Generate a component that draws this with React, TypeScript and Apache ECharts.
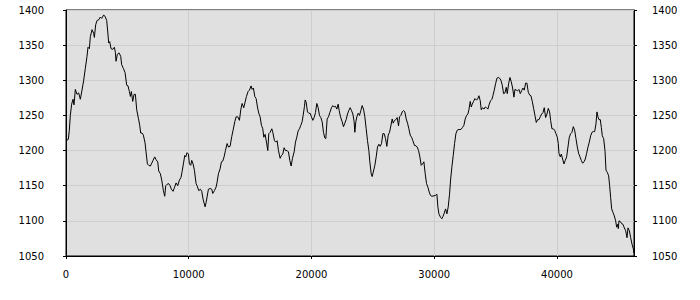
import React, { useEffect, useRef } from "react";
import * as echarts from "echarts";

const xs: number[] = [
  0, 190, 272, 353, 462, 571, 652, 761, 897, 1033, 1168, 1304, 1440, 1576, 1712, 1793, 1902, 1984, 2120, 2255,
  2310, 2418, 2527, 2663, 2799, 2908, 3071, 3207, 3315, 3397, 3478, 3560, 3668, 3804, 3940, 4022, 4076, 4185,
  4321, 4457, 4538, 4674, 4810, 4946, 5054, 5163, 5245, 5326, 5435, 5543, 5652, 5761, 5897, 6005, 6087, 6196,
  6304, 6440, 6522, 6630, 6739, 6875, 6957, 7092, 7228, 7337, 7473, 7554, 7690, 7799, 7935, 8043, 8125, 8234,
  8370, 8478, 8587, 8723, 8832, 8967, 9103, 9239, 9375, 9457, 9565, 9674, 9755, 9864, 9973, 10054, 10163, 10245,
  10353, 10462, 10598, 10679, 10815, 10951, 11060, 11168, 11332, 11413, 11495, 11603, 11739, 11875, 11957, 12092,
  12228, 12310, 12418, 12554, 12663, 12772, 12880, 12989, 13125, 13234, 13370, 13505, 13614, 13750, 13859, 13995,
  14130, 14239, 14348, 14484, 14592, 14701, 14837, 14946, 15082, 15163, 15272, 15380, 15489, 15598, 15707, 15815,
  15924, 16033, 16114, 16223, 16332, 16440, 16522, 16630, 16766, 16848, 16984, 17092, 17201, 17310, 17446, 17554,
  17663, 17772, 17880, 18016, 18125, 18234, 18342, 18451, 18587, 18696, 18804, 18913, 19022, 19130, 19239, 19321,
  19429, 19484, 19565, 19674, 19783, 19891, 20000, 20109, 20217, 20326, 20435, 20543, 20652, 20761, 20870, 20978,
  21087, 21168, 21277, 21386, 21495, 21630, 21739, 21848, 21957, 22065, 22174, 22255, 22364, 22500, 22609, 22717,
  22826, 22935, 23043, 23152, 23261, 23370, 23478, 23533, 23614, 23696, 23804, 23913, 24022, 24130, 24239, 24348,
  24457, 24565, 24674, 24755, 24864, 24946, 25054, 25163, 25272, 25380, 25489, 25598, 25707, 25815, 25924, 26033,
  26141, 26250, 26359, 26467, 26576, 26658, 26766, 26875, 26984, 27092, 27174, 27283, 27391, 27500, 27609, 27717,
  27826, 27935, 28043, 28152, 28261, 28397, 28505, 28614, 28723, 28832, 28940, 29049, 29158, 29266, 29375, 29484,
  29592, 29701, 29810, 30082, 30217, 30299, 30380, 30516, 30625, 30707, 30815, 30924, 31033, 31141, 31250, 31332,
  31440, 31549, 31658, 31766, 31875, 32011, 32174, 32310, 32418, 32527, 32636, 32745, 32826, 32935, 33016, 33098,
  33207, 33315, 33424, 33533, 33641, 33750, 33832, 33940, 34049, 34158, 34266, 34375, 34484, 34592, 34701, 34783,
  34891, 35000, 35109, 35217, 35326, 35435, 35543, 35652, 35761, 35870, 35951, 36060, 36168, 36277, 36386, 36495,
  36576, 36685, 36793, 36902, 37011, 37120, 37228, 37337, 37446, 37554, 37663, 37772, 37880, 37989, 38098, 38207,
  38315, 38424, 38533, 38641, 38750, 38859, 38967, 39076, 39185, 39293, 39402, 39484, 39592, 39701, 39810, 39918,
  40027, 40109, 40163, 40272, 40353, 40462, 40571, 40679, 40788, 40897, 41005, 41114, 41223, 41332, 41440, 41549,
  41658, 41766, 41875, 41984, 42092, 42201, 42310, 42418, 42527, 42636, 42745, 42853, 42962, 43071, 43179, 43261,
  43342, 43424, 43533, 43614, 43696, 43804, 43913, 43995, 44103, 44212, 44293, 44375, 44457, 44565, 44674, 44783,
  44864, 44946, 45000, 45054, 45163, 45272, 45380, 45489, 45598, 45707, 45788, 45897, 46005, 46114, 46223, 46277,
];

const ys: number[] = [
  1214, 1216, 1229, 1250, 1266, 1273, 1265, 1287, 1280, 1282, 1273, 1286, 1300, 1317, 1334, 1347, 1345, 1362, 1372, 1367,
  1361, 1379, 1385, 1386, 1390, 1388, 1393, 1390, 1385, 1370, 1353, 1355, 1345, 1344, 1347, 1340, 1327, 1337,
  1339, 1334, 1322, 1317, 1311, 1293, 1292, 1284, 1277, 1284, 1270, 1280, 1280, 1258, 1246, 1236, 1225, 1225,
  1222, 1211, 1198, 1181, 1179, 1178, 1181, 1186, 1191, 1187, 1184, 1171, 1167, 1158, 1143, 1135, 1150, 1152,
  1153, 1150, 1145, 1142, 1147, 1154, 1150, 1158, 1162, 1170, 1181, 1193, 1191, 1197, 1195, 1181, 1179, 1186,
  1181, 1172, 1153, 1150, 1143, 1145, 1142, 1131, 1120, 1126, 1134, 1145, 1146, 1145, 1139, 1143,
  1148, 1155, 1167, 1174, 1184, 1185, 1191, 1200, 1210, 1205, 1206, 1220, 1229, 1241, 1248, 1248,
  1243, 1258, 1267, 1261, 1269, 1277, 1284, 1286, 1292, 1287, 1289, 1277, 1274, 1262, 1253, 1248,
  1236, 1231, 1219, 1223, 1212, 1200, 1224, 1226, 1231, 1226, 1214, 1212, 1214, 1200, 1189, 1193,
  1195, 1204, 1200, 1200, 1198, 1186, 1178, 1189, 1198, 1212, 1219, 1228, 1231, 1236, 1241, 1250,
  1263, 1272, 1269, 1255, 1253, 1253, 1248, 1243, 1247, 1254, 1267, 1261, 1250, 1247, 1241, 1226,
  1218, 1217, 1245, 1248, 1254, 1261, 1264, 1262, 1263, 1259, 1266, 1257, 1248, 1241, 1234, 1239,
  1244, 1252, 1257, 1261, 1257, 1252, 1241, 1226, 1241, 1248, 1253, 1250, 1257, 1264, 1259, 1248,
  1231, 1214, 1200, 1184, 1167, 1163, 1171, 1179, 1191, 1205, 1209, 1206, 1210, 1224, 1224, 1217,
  1206, 1222, 1226, 1235, 1245, 1239, 1243, 1244, 1247, 1235, 1248, 1250, 1255, 1257, 1255, 1245,
  1239, 1231, 1222, 1219, 1214, 1207, 1207, 1205, 1200, 1191, 1179, 1181, 1184, 1167, 1153, 1148,
  1141, 1136, 1135, 1136, 1138, 1120, 1110, 1105, 1103, 1106, 1111, 1117, 1110, 1120, 1138, 1158,
  1177, 1193, 1210, 1224, 1229, 1230, 1230, 1233, 1236, 1245, 1250, 1252, 1258, 1270, 1262, 1266,
  1270, 1274, 1272, 1273, 1278, 1271, 1258, 1261, 1259, 1262, 1261, 1259, 1266, 1271, 1273, 1278,
  1286, 1295, 1303, 1304, 1303, 1300, 1293, 1281, 1282, 1290, 1281, 1295, 1304, 1298, 1289, 1276,
  1287, 1286, 1285, 1287, 1281, 1285, 1289, 1286, 1296, 1296, 1283, 1279, 1278, 1270, 1260, 1250,
  1240, 1244, 1244, 1248, 1252, 1254, 1261, 1247, 1252, 1260, 1255, 1243, 1231, 1231, 1229, 1224,
  1219, 1210, 1196, 1191, 1195, 1188, 1181, 1186, 1191, 1205, 1219, 1224, 1226, 1234, 1229, 1217,
  1205, 1196, 1191, 1186, 1182, 1184, 1188, 1196, 1205, 1212, 1221, 1226, 1227, 1227, 1238, 1255,
  1248, 1244, 1244, 1233, 1221, 1217, 1200, 1172, 1169, 1164, 1150, 1133, 1117, 1112, 1107, 1100,
  1091, 1095, 1089, 1100, 1099, 1096, 1095, 1090, 1086, 1076, 1090, 1086, 1076, 1067, 1060, 1054,
];

const xMin = 0;
const xMax = 46277;
const xInterval = 10000;
const yMin = 1050;
const yMax = 1400;
const yInterval = 50;

export default function App() {
  const ref = useRef<HTMLDivElement>(null);
  useEffect(() => {
    if (!ref.current) return;
    const chart = echarts.init(ref.current, undefined, { renderer: "svg" });
    const data = xs.map((x, i) => [x, ys[i]]);
    const plain = (v: number) => String(v);
    const labelStyle = { color: "#000", fontSize: 10, fontFamily: "DejaVu Sans", formatter: plain };
    const yBase = {
      type: "value" as const,
      min: yMin,
      max: yMax,
      interval: yInterval,
      axisLine: { show: true, lineStyle: { color: "#000", width: 1 } },
      axisTick: { show: true, length: 3, lineStyle: { color: "#000" } },
    };
    chart.setOption({
      animation: false,
      backgroundColor: "#fff",
      grid: {
        left: 66,
        top: 10,
        width: 568,
        height: 246,
        show: true,
        backgroundColor: "#e0e0e0",
        borderColor: "#000",
        borderWidth: 1,
      },
      xAxis: {
        type: "value",
        min: xMin,
        max: xMax,
        interval: xInterval,
        axisLine: { show: true, lineStyle: { color: "#000", width: 1 } },
        axisTick: { show: true, length: 3, lineStyle: { color: "#000" } },
        axisLabel: { ...labelStyle, margin: 13, showMaxLabel: false },
        splitLine: { show: true, lineStyle: { color: "#cecece", width: 1 } },
      },
      yAxis: [
        {
          ...yBase,
          position: "left",
          axisLabel: { ...labelStyle, margin: 22 },
          splitLine: { show: true, lineStyle: { color: "#cecece", width: 1 } },
        },
        {
          ...yBase,
          position: "right",
          axisLabel: { ...labelStyle, margin: 18 },
          splitLine: { show: false },
        },
      ],
      series: [
        {
          type: "line",
          data,
          showSymbol: false,
          symbol: "none",
          lineStyle: { color: "#000", width: 1 },
          emphasis: { disabled: true },
        },
      ],
    });
    return () => chart.dispose();
  }, []);
  return (
    <div
      ref={ref}
      style={{ position: "fixed", left: 0, top: 0, width: 700, height: 300 }}
    />
  );
}
